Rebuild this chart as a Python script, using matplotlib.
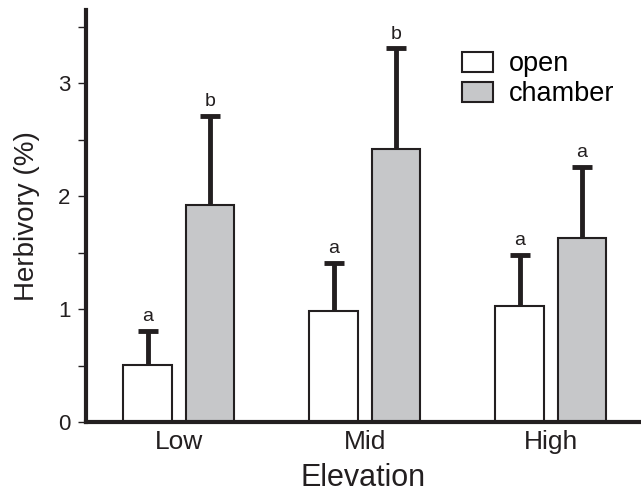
import numpy as np
import matplotlib
matplotlib.use("Agg")
import matplotlib.pyplot as plt

plt.rcParams['font.family'] = ['Liberation Sans', 'DejaVu Sans']

elevations = ['Low', 'Mid', 'High']
open_mean = [0.51, 0.98, 1.03]
open_err = [0.30, 0.43, 0.45]
chamber_mean = [1.92, 2.42, 1.63]
chamber_err = [0.79, 0.89, 0.63]
open_letters = ['a', 'a', 'a']
chamber_letters = ['b', 'b', 'a']

fig = plt.figure(figsize=(6.41, 4.96), dpi=100)
ax = fig.add_axes([0.134, 0.149, 0.866, 0.831])

x = np.arange(len(elevations))
w = 0.263
off = 0.167
err_kw = dict(ecolor='#231f20', elinewidth=3.5, capsize=7, capthick=3.5)

b1 = ax.bar(x - off, open_mean, w, color='white', edgecolor='#231f20', linewidth=1.5,
            yerr=[np.zeros(3), open_err], error_kw=err_kw, label='open', zorder=2)
b2 = ax.bar(x + off, chamber_mean, w, color='#c6c7c9', edgecolor='#231f20', linewidth=1.5,
            yerr=[np.zeros(3), chamber_err], error_kw=err_kw, label='chamber', zorder=2)
# only the upper cap is wanted
for b in (b1, b2):
    b.errorbar.lines[1][0].set_visible(False)

for i in range(len(x)):
    ax.text(x[i] - off, open_mean[i] + open_err[i] + 0.05, open_letters[i],
            ha='center', va='bottom', fontsize=14, color='#231f20')
    ax.text(x[i] + off, chamber_mean[i] + chamber_err[i] + 0.05, chamber_letters[i],
            ha='center', va='bottom', fontsize=14, color='#231f20')

ax.set_xlim(-0.5, 2.484)
ax.set_ylim(0, 3.65)
ax.set_yticks([0, 1, 2, 3])
ax.set_yticks([0.5, 1.5, 2.5, 3.5], minor=True)
ax.set_xticks(x)
ax.set_xticklabels(elevations)

ax.spines['top'].set_visible(False)
ax.spines['right'].set_visible(False)
for s in ['left', 'bottom']:
    ax.spines[s].set_linewidth(3)
    ax.spines[s].set_color('#231f20')

ax.tick_params(axis='y', which='both', direction='out', length=6, width=1,
               color='#231f20', labelsize=16, pad=5, labelcolor='#231f20')
ax.tick_params(axis='x', length=0, labelsize=19, pad=6, labelcolor='#231f20')

ax.set_xlabel('Elevation', fontsize=22, color='#231f20', labelpad=6)
ax.set_ylabel('Herbivory (%)', fontsize=20, color='#231f20', labelpad=13)

ax.legend(loc='upper left', bbox_to_anchor=(0.72, 0.897), bbox_transform=fig.transFigure,
          frameon=False, fontsize=19.5, handlelength=1.15, handleheight=0.75,
          labelspacing=0.15, handletextpad=0.6, borderpad=0, borderaxespad=0)

fig.savefig('out.png', dpi=100)
